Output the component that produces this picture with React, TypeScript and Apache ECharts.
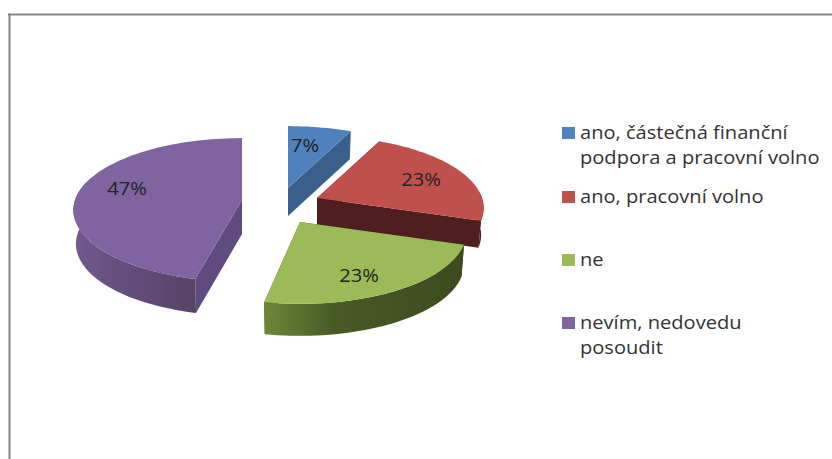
import React, { useEffect, useRef } from "react";
import * as echarts from "echarts";

const categories = ["ano, částečná finanční\npodpora a pracovní volno", "ano, pracovní volno", "ne", "nevím, nedovedu\nposoudit"];
const values = [7, 23, 23, 47];
const percentLabels = ["7%", "23%", "23%", "47%"];
const drawOrder = [0, 1, 3, 2];

const topColors = ["#4f81bd", "#c0504d", "#9bbb59", "#8064a2"];
const cutColors = ["#3a5f8c", "#4f1e1e", "#3d4a1f", "#5f4b80"];
const wallStops = [
  ["#3a5f8c", "#3a5f8c", "#3a5f8c"],
  ["#4f1e1e", "#4f1e1e", "#4f1e1e"],
  ["#6d8739", "#485a25", "#3d4a1f"],
  ["#73598f", "#65507f", "#564365"],
];
const apexX = [288, 317, 300, 242];
const apexY = [188, 198, 222, 200];
const radii = [166, 165, 165, 167];
const depths = [28, 27, 32, 34];
const startTrim = [0, 0, 0, 3.2];
const labelX = [305, 421, 359, 127];
const labelY = [145, 179, 275, 188];
const legendMarkerY = [127, 191, 254, 317];
const legendTextY = [132, 196, 259, 322];

const TILT = 70.5;
const PERSPECTIVE = 0.139;
const SHRINK = 0.985;
const FONT = "'Open Sans'";
const TEXT_STRETCH = 1.116;

function project(i: number, deg: number) {
  const r = (deg * Math.PI) / 180;
  const X = Math.sin(r);
  const Y = Math.cos(r);
  const s = 1 / (1 + PERSPECTIVE * Y);
  return [apexX[i] + radii[i] * X * s, apexY[i] - TILT * Y * s];
}
function lower(i: number, p: number[]) {
  return [apexX[i] + (p[0] - apexX[i]) * SHRINK, p[1] + depths[i]];
}
function arc(i: number, a: number, b: number) {
  const pts: number[][] = [];
  const n = Math.max(2, Math.ceil((b - a) / 2));
  for (let k = 0; k <= n; k++) pts.push(project(i, a + ((b - a) * k) / n));
  return pts;
}
const total = values.reduce((a, b) => a + b, 0);

function renderSlice(params: any, api: any) {
  const i = api.value(0);
  let before = 0;
  for (let k = 0; k < i; k++) before += values[k];
  const a0 = (before / total) * 360 + startTrim[i];
  const a1 = ((before + api.value(1)) / total) * 360;
  const top = arc(i, a0, a1);
  const apex = [apexX[i], apexY[i]];
  const apexLow = [apexX[i], apexY[i] + depths[i]];
  const children: any[] = [];
  const wall = (a: number[][], fill: any) => ({ type: "polygon", shape: { points: a }, style: { fill } });
  const first = top[0];
  const last = top[top.length - 1];
  children.push(wall([apex, first, lower(i, first), apexLow], cutColors[i]));
  children.push(wall([apex, last, lower(i, last), apexLow], cutColors[i]));
  const wa = Math.max(a0, 85);
  const wb = Math.min(a1, 285);
  if (wb > wa) {
    const o = arc(i, wa, wb);
    const pts = o.concat(o.slice().reverse().map((p) => lower(i, p)));
    children.push(
      wall(
        pts,
        new echarts.graphic.LinearGradient(0, 0, 1, 0, [
          { offset: 0, color: wallStops[i][0] },
          { offset: 0.35, color: wallStops[i][1] },
          { offset: 1, color: wallStops[i][2] },
        ])
      )
    );
  }
  children.push(wall([apex].concat(top), topColors[i]));
  children.push({
    type: "text",
    x: labelX[i],
    y: labelY[i],
    scaleX: TEXT_STRETCH,
    style: {
      x: 0,
      y: 0,
      text: percentLabels[i],
      fill: "#222222",
      font: `18px ${FONT}`,
      align: "center",
      verticalAlign: "middle",
    },
  });
  return { type: "group", children };
}

export default function App() {
  const ref = useRef<HTMLDivElement>(null);
  useEffect(() => {
    document.body.style.margin = "0";
    const chart = echarts.init(ref.current!, undefined, { renderer: "svg" });
    const legendEls: any[] = [];
    categories.forEach((c, i) => {
      legendEls.push({ type: "rect", shape: { x: 562, y: legendMarkerY[i], width: 13, height: 12 }, style: { fill: topColors[i] } });
      legendEls.push({
        type: "text",
        x: 580,
        y: legendTextY[i] - 12,
        scaleX: TEXT_STRETCH,
        style: { x: 0, y: 0, text: c, fill: "#333333", font: `18px ${FONT}`, lineHeight: 25, verticalAlign: "top" },
      });
    });
    chart.setOption({
      animation: false,
      backgroundColor: "#ffffff",
      series: [
        {
          type: "custom",
          coordinateSystem: "none",
          renderItem: renderSlice,
          data: drawOrder.map((i) => [i, values[i]]),
          silent: true,
        },
      ],
      graphic: [
        { type: "rect", shape: { x: 8, y: 13.5, width: 824, height: 2 }, style: { fill: "#868686" } },
        { type: "rect", shape: { x: 8.5, y: 13.5, width: 2, height: 446 }, style: { fill: "#868686" } },
        ...legendEls,
      ],
    });
    return () => chart.dispose();
  }, []);
  return <div ref={ref} style={{ position: "absolute", left: 0, top: 0, width: 832, height: 459 }} />;
}
